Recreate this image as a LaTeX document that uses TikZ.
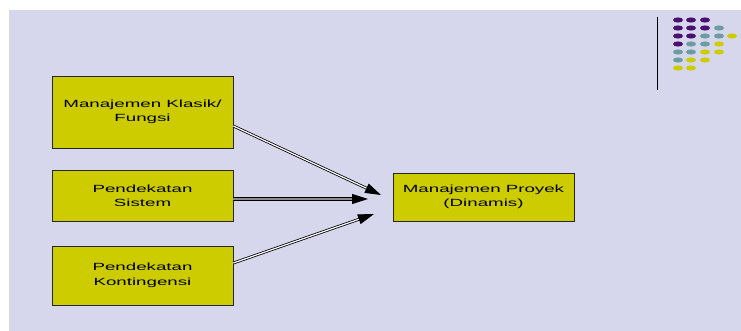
\documentclass[tikz,border=0pt]{standalone}
\usepackage{fontspec}
\usetikzlibrary{arrows.meta}
\newfontfamily\boxfont[FakeStretch=1.8]{Liberation Sans}
\definecolor{slidebg}{RGB}{214,215,236}
\definecolor{boxfill}{RGB}{204,204,0}
\definecolor{dotpurple}{RGB}{75,15,110}
\definecolor{dotteal}{RGB}{106,158,158}
\definecolor{dotyellow}{RGB}{204,204,0}
\tikzset{
  conceptbox/.style={draw=black!85, line width=0.8pt, fill=boxfill,
    minimum width=181pt, inner sep=0pt, align=center,
    font=\boxfont\fontsize{10.4}{14.4}\selectfont, text=black},
  dblarrow/.style={draw=black, line width=0.8pt, double=white,
    double distance=1.2pt, -{Triangle[length=16pt,width=10pt]}},
}
\begin{document}
\begin{tikzpicture}[x=1pt,y=-1pt]
  \useasboundingbox (0,0) rectangle (741,331);
  \fill[white] (0,0) rectangle (741,331);
  \fill[slidebg] (9,10) rectangle (741,331);

  % corner ornament: rule and dot grid
  \draw[black, line width=1pt] (657,17) -- (657,90);
  \foreach \c/\x/\y in {
      dotpurple/678/20, dotpurple/691/20, dotpurple/705/20,
      dotpurple/678/28, dotpurple/691/28, dotpurple/705/28, dotteal/719/28,
      dotpurple/678/36, dotpurple/691/36, dotteal/705/36, dotteal/719/36, dotyellow/732/36,
      dotpurple/678/44, dotteal/691/44, dotteal/705/44, dotyellow/719/44,
      dotteal/678/52, dotteal/691/52, dotyellow/705/52, dotyellow/719/52,
      dotteal/678/60, dotyellow/691/60, dotyellow/705/60,
      dotyellow/678/68, dotyellow/691/68}
    \fill[\c] (\x,\y) ellipse [x radius=5pt, y radius=2.6pt];

  % source approaches
  \node[conceptbox, minimum height=72pt] (klasik) at (142.5,112)
    {Manajemen Klasik/\\Fungsi};
  \node[conceptbox, minimum height=51pt] (sistem) at (142.5,195.5)
    {Pendekatan\\Sistem};
  \node[conceptbox, minimum height=59pt] (kontingensi) at (142.5,275.5)
    {Pendekatan\\Kontingensi};

  % resulting approach
  \node[conceptbox, minimum height=48pt] (proyek) at (483.5,197)
    {Manajemen Proyek\\(Dinamis)};

  % arrow tips stop short of the target box
  \coordinate (tipA) at (381,195);
  \coordinate (tipB) at (368,199);
  \coordinate (tipC) at (374,214);

  \draw[dblarrow] ([yshift=-14pt]klasik.east) -- (tipA);
  \draw[dblarrow, line width=1pt, double=black!45] ([yshift=-3.5pt]sistem.east) -- (tipB);
  \draw[dblarrow] ([yshift=12.5pt]kontingensi.east) -- (tipC);
\end{tikzpicture}
\end{document}
